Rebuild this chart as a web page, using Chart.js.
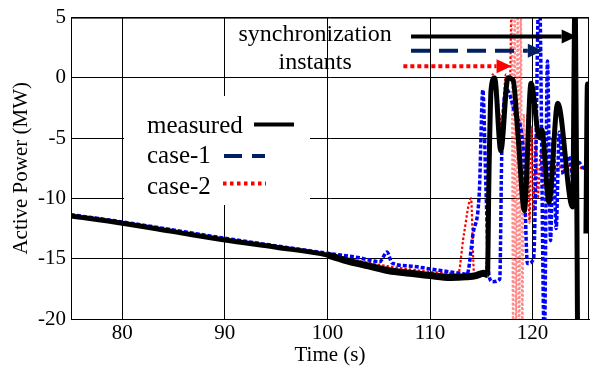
<!DOCTYPE html>
<html>
<head>
<meta charset="utf-8">
<script src="https://cdn.jsdelivr.net/npm/chart.js@4.4.0/dist/chart.umd.min.js"></script>
<style>
  html, body { margin: 0; padding: 0; background: #fff; }
</style>
</head>
<body>
<canvas id="powerChart" width="590" height="369"></canvas>
<script>
// Time axis ticks (s) and power axis ticks (MW)
const timeTicks = [80, 90, 100, 110, 120];
const powerTicks = [-20, -15, -10, -5, 0, 5];

// measured trace
const measuredT = [75, 80, 85, 90, 95, 100, 102, 104, 106, 108, 110, 112, 113.5, 114.5, 115.2, 115.6,
  115.75, 115.95, 116.3, 116.9, 117.6, 118.1, 118.6, 119.2, 119.85, 120.67, 120.9, 121.6, 122.45,
  123.9, 124.15, 124.4, 124.8, 125.2, 125.35, 125.5];
const measuredP = [-11.45, -12.05, -12.75, -13.45, -14.05, -14.7, -15.2, -15.6, -16.0, -16.2, -16.4,
  -16.55, -16.5, -16.4, -16.2, -16.3, -8, -1, 0, -6.05, 0, -0.2, -5, -11.0, -0.45, -4.95, -4.3, -10.3,
  -2.1, -10.7, 8, -24, null, -12.9, -0.5, -2];

// case-1 simulation
const case1T = [75, 80, 90, 100, 103, 105.1, 105.8, 106.3, 108, 110, 112, 113.2, 113.6, 114.2, 114.8,
  115.15, 115.45, 115.75, 116.1, 116.8, 117.0, 117.5, 118.3, 119.1, 119.5, 120.1, 120.65, 121.15,
  121.45, 121.75, 122.0, 122.3, 122.6, 123.0, 123.5, 124.0, 124.5, 125.0, 125.5];
const case1P = [-11.35, -11.95, -13.3, -14.55, -14.9, -15.25, -14.45, -15.35, -15.6, -15.85, -16.1,
  -16.25, -16.3, -12.9, -9.6, -1.0, -9, -16.4, -16.9, -16.7, -6, -1, -3, -6, -15.4, -15, 8, -22,
  1.4, -13.5, -5, -12.5, -4.5, -8, -6.5, -8.5, -7, -7.5, -7];

// case-2 simulation
const case2T = [75, 90, 100, 105, 110, 112.4, 112.7, 113.3, 114.0, 114.3, 114.5, 115.4, 115.8, 116.1,
  116.6, 117.0, 117.4, 117.8, 117.95, 118.1, 118.25, 118.4, 118.55, 118.7, 118.85, 119.0, 119.15,
  119.3, 119.5, 119.7, 119.9, 120.1, 120.3, 120.5, 120.8, 121.1, 121.5, 122.0, 122.5, 123.0, 123.5,
  124.0, 124.5, 125.0, 125.5];
const case2P = [-11.45, -13.4, -14.7, -15.5, -16.1, -16.3, -16.4, -13, -10.0, -16.3, -16.3, -16.2, -8,
  0.3, -2, -4, 0.3, 0, 6, -21, 6, -21, 6, -21, 6, -21, -3, -12, -3, -12, -4, -11, -5, -10, -6, -9, -7,
  -8, -7.2, -7.8, -7.3, -7.8, -7.4, -7.6, -7.5];

// synchronization arrows: start time, end time, level (MW)
const arrowStart = [108.15, 108.15, 107.4];
const arrowEnd = [124.3, 121.0, 117.95];
const arrowLevel = [3.43, 2.25, 0.96];

const toPoints = (t, p) => t.map((v, i) => ({ x: v, y: p[i] }));

const serif = '"Liberation Serif", "Times New Roman", serif';

const overlayPlugin = {
  id: 'overlay',
  afterDraw(chart) {
    const { ctx, chartArea: a, scales: { x, y } } = chart;
    ctx.save();

    // top and right frame
    ctx.strokeStyle = '#000';
    ctx.lineWidth = 1;
    ctx.beginPath();
    ctx.moveTo(a.left, a.top + 0.5);
    ctx.lineTo(a.right - 0.5, a.top + 0.5);
    ctx.lineTo(a.right - 0.5, a.bottom);
    ctx.stroke();

    // legend box
    ctx.fillStyle = '#fff';
    ctx.fillRect(124, 96, 186, 109);
    ctx.fillStyle = '#000';
    ctx.font = '25px ' + serif;
    ctx.textBaseline = 'alphabetic';
    ctx.textAlign = 'left';
    ctx.fillText('measured', 147, 133);
    ctx.fillText('case-1', 147, 163);
    ctx.fillText('case-2', 147, 194);

    ctx.lineWidth = 4;
    ctx.strokeStyle = '#000';
    ctx.beginPath(); ctx.moveTo(254, 124.5); ctx.lineTo(294, 124.5); ctx.stroke();
    ctx.strokeStyle = '#002060';
    ctx.setLineDash([18, 10]);
    ctx.beginPath(); ctx.moveTo(224, 156); ctx.lineTo(265, 156); ctx.stroke();
    ctx.strokeStyle = '#ff0000';
    ctx.setLineDash([3.5, 3.5]);
    ctx.beginPath(); ctx.moveTo(223, 183.5); ctx.lineTo(266, 183.5); ctx.stroke();
    ctx.setLineDash([]);

    // annotation text
    ctx.fillStyle = '#000';
    ctx.font = '24px ' + serif;
    ctx.textAlign = 'center';
    ctx.fillText('synchronization', x.getPixelForValue(98.8), y.getPixelForValue(3.02));
    ctx.fillText('instants', x.getPixelForValue(98.8), y.getPixelForValue(0.71));

    // arrows
    const styles = [
      { color: '#000', dash: [] },
      { color: '#002060', dash: [19, 9] },
      { color: '#ff0000', dash: [4, 3] }
    ];
    arrowStart.forEach((t0, i) => {
      const x0 = x.getPixelForValue(t0);
      const x1 = x.getPixelForValue(arrowEnd[i]);
      const yy = y.getPixelForValue(arrowLevel[i]);
      const head = 15;
      ctx.strokeStyle = styles[i].color;
      ctx.fillStyle = styles[i].color;
      ctx.lineWidth = 4;
      ctx.setLineDash(styles[i].dash);
      ctx.beginPath(); ctx.moveTo(x0, yy); ctx.lineTo(x1 - head, yy); ctx.stroke();
      ctx.setLineDash([]);
      ctx.beginPath();
      ctx.moveTo(x1, yy);
      ctx.lineTo(x1 - head, yy - 7);
      ctx.lineTo(x1 - head, yy + 7);
      ctx.closePath();
      ctx.fill();
    });
    ctx.restore();
  }
};

new Chart(document.getElementById('powerChart'), {
  type: 'line',
  data: {
    datasets: [
      {
        label: 'measured',
        data: toPoints(measuredT, measuredP),
        borderColor: '#000',
        borderWidth: 5,
        pointRadius: 0,
        cubicInterpolationMode: 'monotone',
        spanGaps: false,
        segment: {
          // the recorded band gets noisier (thicker) before synchronization
          borderWidth: ctx => (ctx.p0.parsed.x >= 100 && ctx.p1.parsed.x <= 115.6) ? 7 : 5
        }
      },
      {
        label: 'case-1',
        data: toPoints(case1T, case1P),
        borderColor: '#0000ff',
        borderWidth: 3.5,
        borderDash: [4, 2],
        pointRadius: 0,
        cubicInterpolationMode: 'monotone'
      },
      {
        label: 'case-2',
        data: toPoints(case2T, case2P),
        borderColor: '#ff0000',
        borderWidth: 2.2,
        borderDash: [2.5, 2],
        pointRadius: 0,
        cubicInterpolationMode: 'monotone',
        segment: {
          borderColor: ctx => (ctx.p0.parsed.x >= 117.9 && ctx.p1.parsed.x <= 119.6) ? 'rgba(255,60,60,0.6)' : '#ff0000'
        }
      }
    ]
  },
  options: {
    responsive: false,
    animation: false,
    layout: { padding: { top: 16, right: 1, left: 0, bottom: 0 } },
    plugins: {
      legend: { display: false },
      tooltip: { enabled: false }
    },
    scales: {
      x: {
        type: 'linear',
        min: 75,
        max: 125.5,
        afterBuildTicks: (scale) => { scale.ticks = timeTicks.map(v => ({ value: v })); },
        afterFit: (scale) => { scale.height = 50; },
        grid: { color: '#000', lineWidth: 1, drawTicks: false },
        border: { color: '#000', width: 1 },
        ticks: { color: '#000', padding: 2, font: { family: serif, size: 21 }, maxRotation: 0 },
        title: { display: true, text: 'Time (s)', color: '#000', padding: { top: 0, bottom: 1 },
          font: { family: serif, size: 21 } }
      },
      y: {
        min: -20,
        max: 5,
        afterBuildTicks: (scale) => { scale.ticks = powerTicks.map(v => ({ value: v })); },
        afterFit: (scale) => { scale.width = 71; },
        grid: { color: '#000', lineWidth: 1, drawTicks: false },
        border: { color: '#000', width: 1 },
        ticks: { color: '#000', padding: 5, font: { family: serif, size: 21 } },
        title: { display: true, text: 'Active Power (MW)', color: '#000', padding: { top: 9, bottom: 0 },
          font: { family: serif, size: 21 } }
      }
    }
  },
  plugins: [overlayPlugin]
});
</script>
</body>
</html>
